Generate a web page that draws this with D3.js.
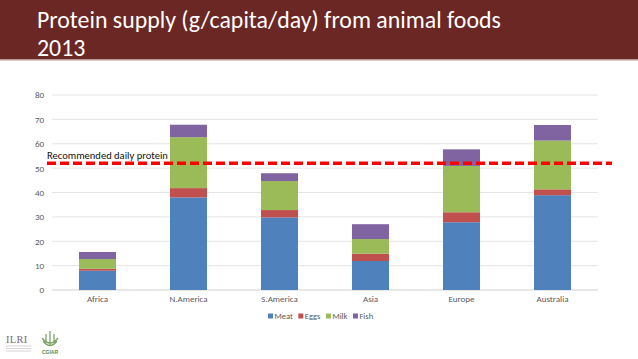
<!DOCTYPE html>
<html><head><meta charset="utf-8">
<script src="https://cdn.jsdelivr.net/npm/d3@7"></script>
<style>html,body{margin:0;padding:0;background:#fff;overflow:hidden}</style>
</head><body>
<svg id="c" width="638" height="359"></svg>
<script>
const categories = ["Africa","N.America","S.America","Asia","Europe","Australia"];
const seriesNames = ["Meat","Eggs","Milk","Fish"];
const meat = [7.9, 38.0, 29.8, 11.9, 27.8, 38.9];
const eggs = [0.8, 3.8, 3.0, 3.0, 4.1, 2.4];
const milk = [4.0, 20.9, 11.9, 6.0, 19.0, 20.0];
const fish = [2.9, 5.1, 3.2, 6.1, 6.8, 6.4];
const yTicks = [0,10,20,30,40,50,60,70,80];
const recommended = 52;
const titleLines = ["Protein supply (g/capita/day) from animal foods","2013"];
const colors = ["#4F81BD","#C0504D","#9BBB59","#8064A2"];

const svg = d3.select("#c");
const W = 638, H = 359;
const font = "Carlito, Calibri, 'Open Sans', sans-serif";

function fitWidth(sel, target){
  const w = sel.node().getComputedTextLength();
  const fs = parseFloat(sel.attr("font-size"));
  const nfs = w > 0 ? fs * target / w : fs;
  sel.attr("font-size", nfs);
  return nfs;
}

// banner
svg.append("rect").attr("x",0).attr("y",0).attr("width",W).attr("height",59).attr("fill","#6B2724");
svg.append("rect").attr("x",0).attr("y",59).attr("width",W).attr("height",1.5).attr("fill","#b89a98");
const t1 = svg.append("text").attr("x",37).attr("y",28).attr("fill","#fff")
  .attr("font-family",font).attr("font-size",26).text(titleLines[0]);
const tfs = fitWidth(t1, 464);
svg.append("text").attr("x",37).attr("y",56).attr("fill","#fff")
  .attr("font-family",font).attr("font-size",tfs).text(titleLines[1]);

const rows = categories.map((c,i)=>({cat:c, Meat:meat[i], Eggs:eggs[i], Milk:milk[i], Fish:fish[i]}));
const stack = d3.stack().keys(seriesNames)(rows);

const x = d3.scaleBand().domain(categories).range([52,598]).paddingInner(0.593).paddingOuter(0.2965);
const y = d3.scaleLinear().domain([0,80]).range([290,95]);

// gridlines
svg.append("g").selectAll("line").data(yTicks).join("line")
  .attr("x1",52).attr("x2",598).attr("y1",d=>y(d)).attr("y2",d=>y(d))
  .attr("stroke",d=>d===0?"#d0d0d0":"#e4e4e4").attr("stroke-width",1);

// y axis labels
const yAxis = d3.axisLeft(y).tickValues(yTicks).tickSize(0).tickPadding(0);
const gy = svg.append("g").attr("transform","translate(44,0)").call(yAxis);
gy.select(".domain").remove();
gy.selectAll("text").attr("font-family",font).attr("font-size",9).attr("fill","#595959");

// x axis labels
const xAxis = d3.axisBottom(x).tickSize(0).tickPadding(6);
const gx = svg.append("g").attr("transform","translate(0,290)").call(xAxis);
gx.select(".domain").remove();
gx.selectAll("text").attr("font-family",font).attr("font-size",9).attr("fill","#595959");

// bars
svg.append("g").selectAll("g").data(stack).join("g").attr("fill",(d,i)=>colors[i])
  .selectAll("rect").data(d=>d).join("rect")
  .attr("x",d=>x(d.data.cat)).attr("width",x.bandwidth())
  .attr("y",d=>y(d[1])).attr("height",d=>y(d[0])-y(d[1]));

// recommended line
svg.append("line").attr("x1",47).attr("x2",612).attr("y1",y(recommended)).attr("y2",y(recommended))
  .attr("stroke","#ff0000").attr("stroke-width",3.5).attr("stroke-dasharray","9,4");
const rec = svg.append("text").attr("x",47).attr("y",158.5).attr("font-family",font).attr("font-size",11.5)
  .attr("fill","#111").text("Recommended daily protein");
fitWidth(rec, 121);

// legend: laid out sequentially
const lg = svg.append("g");
let lx = 268;
seriesNames.forEach((s,i)=>{
  lg.append("rect").attr("x",lx).attr("y",313.5).attr("width",5).attr("height",5).attr("fill",colors[i]);
  const t = lg.append("text").attr("x",lx+6.5).attr("y",319).attr("font-family",font).attr("font-size",8.5)
    .attr("fill","#595959").text(s);
  lx += 6.5 + t.node().getComputedTextLength() + 5.5;
});

// logos (approximate)
const logo = svg.append("g");
logo.append("text").attr("x",6).attr("y",343).attr("font-family","'Liberation Serif', serif").attr("font-size",10.5)
  .attr("fill","#7a6a73").attr("letter-spacing",0.3).text("ILRI");
[346,348.5,351].forEach(yy=>logo.append("line").attr("x1",6).attr("x2",31).attr("y1",yy).attr("y2",yy)
  .attr("stroke","#d8d2d5").attr("stroke-width",1));
const p = logo.append("g").attr("fill","none").attr("stroke","#7fa36a").attr("stroke-width",1.3);
p.append("path").attr("d","M50,331 L50,345 M46,334 L46,343 M54,334 L54,343 M42,338 Q50,348 58,338 M43,341 Q50,350 57,341");
logo.append("text").attr("x",50).attr("y",354).attr("text-anchor","middle").attr("font-family","'Liberation Sans', sans-serif")
  .attr("font-size",5).attr("font-weight","bold").attr("fill","#5e8a4c").text("CGIAR");
</script>
</body></html>
